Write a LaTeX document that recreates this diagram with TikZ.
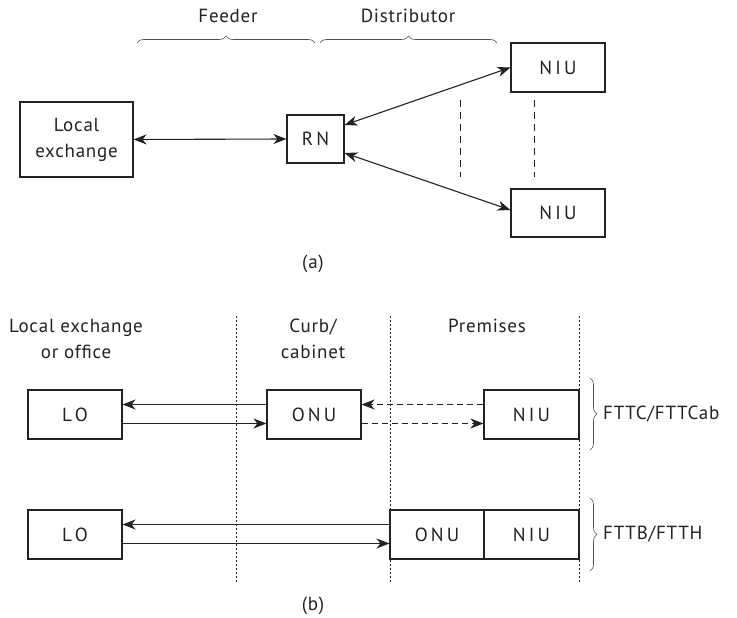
\documentclass[tikz,border=0pt]{standalone}
\usepackage{fontspec}
\setmainfont{PT Sans}[LetterSpace=4]
\usetikzlibrary{arrows.meta,decorations.pathreplacing}
\definecolor{ink}{HTML}{222222}
\begin{document}
\begin{tikzpicture}[x=1pt,y=-1pt,
  every node/.style={text=ink,font=\fontsize{19}{26}\selectfont},
  box/.style={draw=ink,line width=1.1pt,inner sep=0pt,align=center},
  lbl/.style={align=center,inner sep=0pt},
  tip/.tip={Stealth[length=13pt,width=10pt,inset=4pt]},
  arr/.style={line width=1.1pt,draw=ink,-tip},
  darr/.style={arr,dash pattern=on 6pt off 4pt},
  barr/.style={line width=1.1pt,draw=ink,tip-tip},
  sep/.style={line width=0.9pt,draw=ink,dash pattern=on 2pt off 2pt},
  dsep/.style={line width=1pt,draw=ink,dash pattern=on 7pt off 5pt},
  brc/.style={draw=ink!80,line width=0.6pt,decorate,decoration={brace,amplitude=7pt}}
]
\useasboundingbox (0,0) rectangle (737,618);
% ---------- (a) ----------
\node[lbl] (feeder) at (228,16) {Feeder};
\node[lbl] (distr) at (408,16) {Distributor};
\draw[brc] (137,43) -- (315,43);
\draw[brc] (320,43) -- (497,43);
\node[box,minimum width=113pt,minimum height=75pt] (le) at (76.5,139.5) {Local\\exchange};
\node[box,minimum width=57pt,minimum height=48pt] (rn) at (315.5,139) {R\,N};
\node[box,minimum width=94pt,minimum height=49pt] (niuA) at (558,67.5) {N\,I\,U};
\node[box,minimum width=94pt,minimum height=48pt] (niuB) at (558,213) {N\,I\,U};
\draw[barr] (le.east) -- (rn.west);
\draw[barr] ([yshift=14pt]rn.east) -- (niuA.west);
\draw[barr] ([yshift=-14pt]rn.east) -- ([yshift=3pt]niuB.west);
\coordinate (d1t) at (460,100); \coordinate (d1b) at (460,177);
\coordinate (d2t) at (534,100); \coordinate (d2b) at (534,177);
\draw[dsep] (d1t) -- (d1b);
\draw[dsep] (d2t) -- (d2b);
\node[lbl] (capa) at (313,264) {(a)};
% ---------- (b) ----------
\node[lbl] (hle) at (76,339) {Local exchange\\or office};
\node[lbl] (hcurb) at (313,339) {Curb/\\cabinet};
\node[lbl] (hprem) at (487,326) {Premises};
\coordinate (s1t) at (236,316); \coordinate (s1b) at (236,582);
\coordinate (s2t) at (390,316); \coordinate (s2b) at (390,582);
\coordinate (s3t) at (579,316); \coordinate (s3b) at (579,582);
\draw[sep] (s1t) -- (s1b);
\draw[sep] (s2t) -- (s2b);
\draw[sep] (s3t) -- (s3b);
% row 1
\node[box,minimum width=94pt,minimum height=49pt] (lo1) at (75,414.5) {L\,O};
\node[box,minimum width=94pt,minimum height=49pt] (onu1) at (314,414.5) {O\,N\,U};
\node[box,minimum width=95pt,minimum height=49pt] (niu1) at (531.5,414.5) {N\,I\,U};
\draw[arr] ([yshift=10pt]onu1.west) -- ([yshift=10pt]lo1.east);
\draw[arr] ([yshift=-9pt]lo1.east) -- ([yshift=-9pt]onu1.west);
\draw[darr] ([yshift=10pt]niu1.west) -- ([yshift=10pt]onu1.east);
\draw[darr] ([yshift=-9pt]onu1.east) -- ([yshift=-9pt]niu1.west);
\draw[brc] (590,378) -- (590,450);
\node[lbl,anchor=west] (fttc) at (603,414) {FTTC/FTTCab};
% row 2
\node[box,minimum width=94pt,minimum height=49pt] (lo2) at (75,534.5) {L\,O};
\node[box,minimum width=94pt,minimum height=49pt] (onu2) at (437,534.5) {O\,N\,U};
\node[box,minimum width=95pt,minimum height=49pt] (niu2) at (531.5,534.5) {N\,I\,U};
\draw[arr] ([yshift=10pt]onu2.west) -- ([yshift=10pt]lo2.east);
\draw[arr] ([yshift=-9pt]lo2.east) -- ([yshift=-9pt]onu2.west);
\draw[brc] (590,498) -- (590,571);
\node[lbl,anchor=west] (fttb) at (603,534) {FTTB/FTTH};
\node[lbl] (capb) at (313,606) {(b)};
\end{tikzpicture}
\end{document}
